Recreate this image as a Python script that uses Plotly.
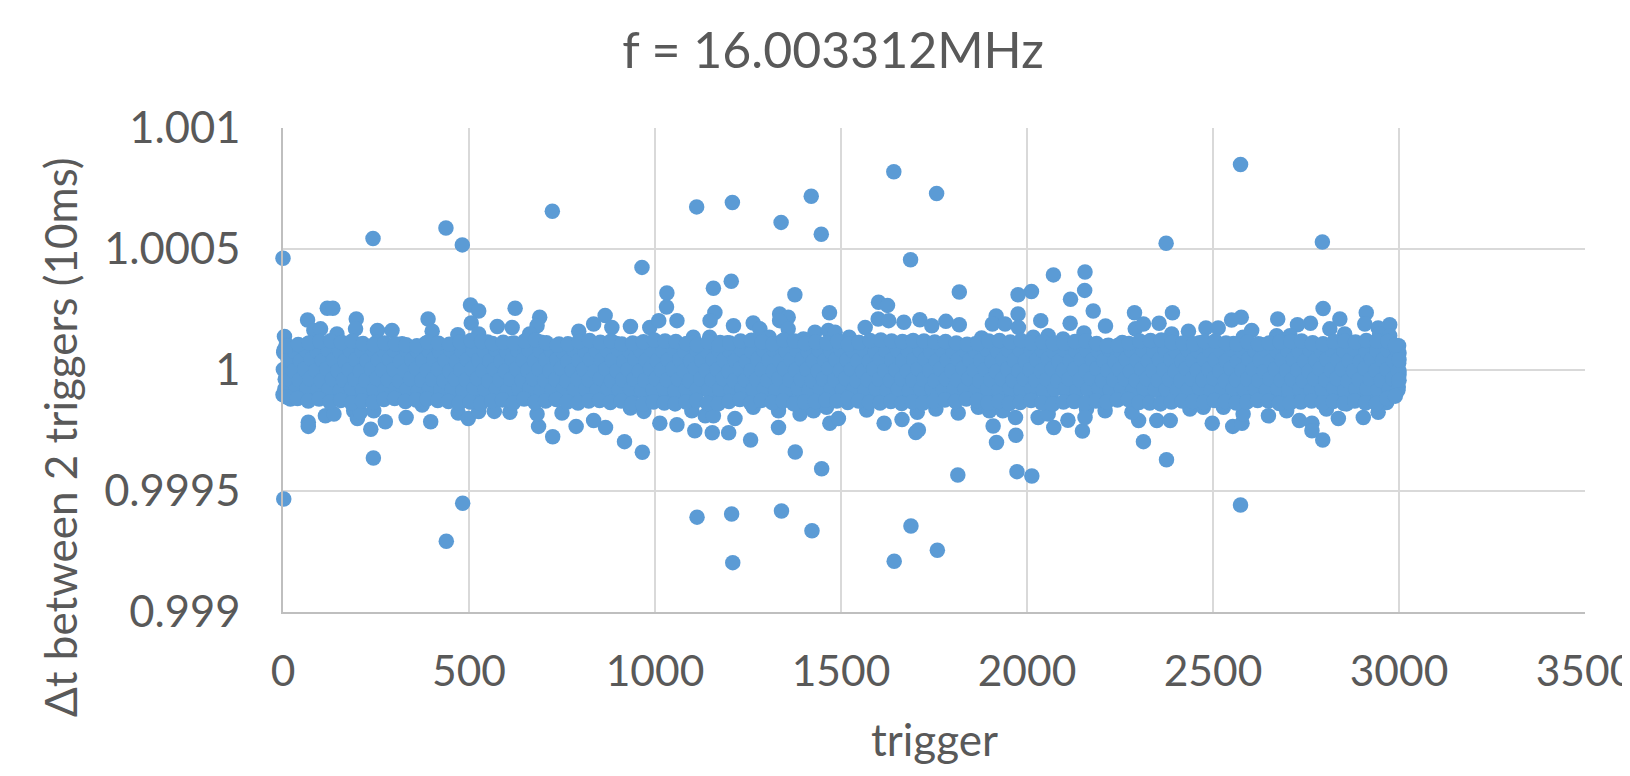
import plotly.graph_objects as go

title_text = "f = 16.003312MHz"
x_title = "trigger"
y_title = "Δt between 2 triggers (10ms)"
x_ticks = [0, 500, 1000, 1500, 2000, 2500, 3000, 3500]
y_ticks = [0.999, 0.9995, 1, 1.0005, 1.001]
y_tick_labels = ["0.999", "0.9995", "1", "1.0005", "1.001"]

# (trigger, deviation from 1 in millionths)
outliers = [
    (0,462),(2,-533),(242,543),(243,-364),(438,587),(439,-708),(482,517),(483,-551),(724,656),(965,424),
    (966,-340),(1032,318),(1031,260),(918,-296),(867,-238),(725,-276),(1112,674),(1208,692),(1339,610),
    (1420,718),(1447,561),(1642,819),(1757,729),(1687,456),(1205,367),(1157,338),(1376,311),(1161,238),
    (1148,204),(1469,237),(1818,322),(2071,393),(2156,405),(2155,329),(2117,292),(2012,324),(1976,311),
    (2178,244),(1976,231),(2037,204),(2116,193),(1601,280),(1625,267),(1917,223),(1113,-608),(1206,-595),
    (1340,-583),(1422,-664),(1209,-796),(1688,-645),(1759,-745),(1643,-790),(1814,-434),(1973,-420),
    (2013,-438),(1448,-408),(1377,-339),(1257,-289),(1332,-238),(1198,-259),(1154,-259),(1107,-251),
    (1215,-200),(1918,-300),(1970,-270),(1909,-231),(1969,-196),(2072,-238),(2149,-252),(2110,-208),
    (1701,-258),(1708,-248),(1616,-220),(1664,-205),(1470,-220),(1493,-200),(2574,849),(2574,-558),
    (2374,524),(2375,-371),(2794,529),(2795,-289),(2313,-296),(2796,254),(2912,237),(2674,211),(2391,237),
    (2289,237),(2211,182),(2576,218),(2550,207),(2841,211),(2762,193),(2727,187),(2975,187),(2944,174),
    (2498,-220),(2553,-233),(2578,-220),(2649,-189),(2732,-209),(2766,-220),(2766,-251),(2837,-200),
    (2904,-196),(2300,-209),(2282,-175),(2349,-209),(2385,-209),(2967,-134),
]

upper_edge = [
    (4,138),(66,207),(119,255),(134,255),(197,211),(254,163),(293,163),(390,211),(401,160),(470,146),
    (504,269),(526,244),(506,194),(526,149),(576,180),(624,255),(616,176),(690,218),(683,183),(663,149),
    (795,160),(835,190),(866,225),(884,176),(934,180),(986,176),(1010,204),(1059,204),(145,149),(195,170),
    (83,163),(101,170),(1211,183),(1264,194),(1282,170),(1335,231),(1358,218),(1335,204),(1358,170),
    (1430,156),(1466,163),(1484,156),(1522,135),(1565,176),(1600,211),(1628,204),(1669,197),(1712,208),
    (1744,183),(1782,201),(1818,187),(1878,132),(1907,190),(1941,190),(1977,176),(2017,135),(2057,142),
    (2097,128),(2153,153),(1103,135),(1147,135),(1175,114),(1307,135),(1399,128),(2291,170),(2313,190),
    (2355,193),(2389,149),(2434,160),(2481,174),(2514,174),(2581,135),(2604,163),(2671,142),(2707,142),
    (2814,170),(2854,149),(2908,190),(2948,149),(2975,142),
]

lower_edge = [
    (0,-102),(20,-120),(68,-216),(68,-233),(114,-189),(137,-182),(190,-168),(200,-200),(208,-175),(236,-245),
    (275,-214),(244,-168),(331,-196),(397,-214),(374,-145),(471,-178),(498,-200),(526,-172),(568,-171),
    (610,-175),(687,-233),(683,-182),(750,-178),(788,-233),(835,-209),(934,-157),(970,-171),(1013,-220),
    (1059,-226),(1264,-154),(1332,-168),(1390,-182),(1426,-168),(1461,-154),(1518,-134),(1569,-165),
    (1705,-175),(1755,-161),(1815,-178),(1869,-154),(1899,-168),(1935,-168),(2030,-196),(2057,-182),
    (2160,-161),(1099,-168),(1135,-189),(1157,-189),(2438,-161),(2474,-154),(2528,-154),(2581,-182),
    (2698,-168),(2805,-161),(2944,-175),(2859,-140),(2210,-168),(2156,-196),
]

band_a = [
    (2,72),(6,-38),(9,104),(13,-3),(18,-108),(22,33),(27,-71),(33,-64),(38,97),(42,28),(47,-102),(52,66),(57,-29),(62,4),
    (68,110),(73,-85),(77,41),(82,-12),(88,-115),(93,78),(98,-47),(104,15),(109,-96),(113,58),(119,-21),(124,101),(129,-69),(134,36),
    (140,-118),(145,84),(150,-42),(155,9),(161,112),(166,-78),(171,47),(177,-16),(182,-105),(187,71),(192,-53),(198,22),(203,106),(208,-88),
    (214,39),(219,-7),(224,-112),(230,81),(235,-33),(240,55),(246,-74),(251,114),(256,-20),(262,-99),(267,63),(272,12),(278,-57),(283,95),
    (288,-110),(294,30),(299,-41),(304,76),(310,-84),(315,2),(320,108),(326,-27),(331,-101),(336,51),(342,-62),(347,89),(352,18),(358,-116),
    (363,69),(368,-36),(374,43),(379,-79),(384,111),(390,-10),(395,-93),(400,60),(406,-50),(411,25),(416,99),(422,-107),(427,-24),(432,74),
    (438,-66),(443,37),(448,-113),(454,92),(459,-5),(464,-82),(470,53),(475,113),(480,-44),(486,20),(491,-98),(496,82),(502,-31),(507,48),
    (512,-72),(518,105),(523,7),(528,-109),(534,65),(539,-55),(544,29),(550,116),(555,-87),(560,-15),(566,79),(571,-60),(576,40),(582,-103),
    (587,98),(592,-26),(598,56),(603,-76),(608,11),(614,109),(619,-114),(624,-40),(630,70),(635,-91),(640,31),(646,-2),(651,103),(656,-67),
    (662,46),(667,-119),(672,85),(678,-19),(683,-52),(688,61),(694,115),(699,-83),(704,23),(710,-34),(715,-106),(720,90),(726,-9),(731,52),
    (736,-70),(742,107),(747,-46),(752,16),(758,-95),(763,77),(768,-25),(774,38),(779,-111),(784,100),(790,-59),(795,5),(800,68),(806,-89),
    (811,112),(816,-37),(822,44),(827,-104),(832,87),(838,-14),(843,-73),(848,59),(854,26),(859,-117),(864,102),(870,-48),(875,73),(880,-6),
    (886,-86),(891,34),(896,110),(902,-30),(907,-100),(912,64),(918,-56),(923,13),(928,94),(934,-112),(939,42),(944,-18),(950,-77),(955,106),
    (960,57),(965,-43),(971,-97),(976,24),(981,83),(987,-63),(992,-11),(997,114),(1003,-108),(1008,49),(1013,-32),(1019,75),(1024,-81),(1029,8),
    (1035,96),(1040,-54),(1045,35),(1051,-115),(1056,109),(1061,-23),(1067,62),(1072,-92),(1077,17),(1083,-68),(1088,86),(1093,-39),(1099,111),(1104,-4),
    (1109,-103),(1115,54),(1120,-49),(1125,27),(1131,98),(1136,-80),(1141,-16),(1147,72),(1152,-110),(1157,40),(1163,-61),(1168,104),(1173,3),(1179,-35),
    (1184,-94),(1189,67),(1195,113),(1200,-75),(1205,21),(1211,-45),(1216,88),(1221,-118),(1227,50),(1232,-8),(1237,-65),(1243,107),(1248,32),(1253,-28),
    (1259,-99),(1264,80),(1269,-52),(1275,14),(1280,60),(1285,-85),(1291,112),(1296,-20),(1301,43),(1307,-107),(1312,93),(1317,-41),(1323,6),(1328,71),
    (1333,-72),(1339,116),(1344,-13),(1349,-114),(1355,55),(1360,-57),(1365,28),(1371,100),(1376,-88),(1381,-33),(1387,66),(1392,10),(1397,-101),(1403,84),
    (1408,-47),(1413,37),(1419,109),(1424,-78),(1429,-1),(1435,-60),(1440,58),(1445,-116),(1451,91),(1456,-24),(1461,19),(1467,74),(1472,-90),(1477,-37),
    (1483,45),(1488,105),(1493,-68),(1499,-10),(1504,-106),(1509,63),(1515,30),(1520,-51),(1525,97),(1531,-83),(1536,-17),(1541,52),(1547,114),(1552,-112),
    (1557,-29),(1563,78),(1568,7),(1573,-64),(1579,41),(1584,103),(1589,-96),(1595,-42),(1600,69),(1605,16),(1611,-119),(1616,89),(1621,-22),(1627,51),
    (1632,-74),(1637,110),(1643,1),(1648,-55),(1653,33),(1659,-104),(1664,82),(1669,-36),(1675,60),(1680,-86),(1685,115),(1691,-12),(1696,25),(1701,-69),
    (1707,95),(1712,-113),(1717,47),(1723,-30),(1728,-92),(1733,76),(1739,9),(1744,-58),(1749,106),(1755,38),(1760,-101),(1765,-19),(1771,65),(1776,-80),
    (1781,112),(1787,-44),(1792,22),(1797,-109),(1803,86),(1808,-3),(1813,-62),(1819,54),(1824,99),(1829,-34),(1835,-117),(1840,31),(1845,73),(1851,-76),
    (1856,-15),(1861,108),(1867,44),(1872,-97),(1877,-48),(1883,15),(1888,90),(1893,-84),(1899,59),(1904,-26),(1909,113),(1915,-108),(1920,2),(1925,68),
    (1931,-54),(1936,36),(1941,-91),(1947,101),(1952,-8),(1957,-70),(1963,79),(1968,20),(1973,-115),(1979,49),(1984,-40),(1989,107),(1995,-77),(2000,-21),
    (2005,61),(2011,-102),(2016,92),(2021,11),(2027,-59),(2032,34),(2037,111),(2043,-32),(2048,-89),(2053,70),(2059,-6),(2064,-111),(2069,42),(2075,85),
    (2080,-46),(2085,18),(2091,-73),(2096,104),(2101,-16),(2107,56),(2112,-95),(2117,-38),(2123,77),(2128,4),(2133,-118),(2139,96),(2144,29),(2149,-63),
    (2155,47),(2160,-27),(2165,109),(2171,-82),(2176,64),(2181,-50),(2187,13),(2192,-105),(2197,88),(2203,-11),(2208,39),(2213,-71),(2219,102),(2224,-35),
    (2229,57),(2235,-99),(2240,-2),(2245,75),(2251,-56),(2256,114),(2261,23),(2267,-113),(2272,46),(2277,-23),(2283,83),(2288,-87),(2293,10),(2299,-43),
    (2304,106),(2309,62),(2315,-66),(2320,-107),(2325,32),(2331,94),(2336,-13),(2341,-79),(2347,50),(2352,112),(2357,-31),(2363,-100),(2368,72),(2373,17),
    (2379,-52),(2384,40),(2389,98),(2395,-116),(2400,-5),(2405,66),(2411,-75),(2416,27),(2421,108),(2427,-39),(2432,-93),(2437,55),(2443,-18),(2448,86),
    (2453,-60),(2459,6),(2464,113),(2469,-110),(2475,43),(2480,-28),(2485,74),(2491,-84),(2496,21),(2501,101),(2507,-47),(2512,-9),(2517,63),(2523,-103),
    (2528,35),(2533,90),(2539,-68),(2544,-20),(2549,52),(2555,110),(2560,-88),(2565,12),(2571,-37),(2576,80),(2581,-114),(2587,44),(2592,-57),(2597,99),
    (2603,-1),(2608,-78),(2613,60),(2619,28),(2624,-96),(2629,105),(2635,-33),(2640,71),(2645,-64),(2651,8),(2656,-108),(2661,48),(2667,-25),(2672,91),
    (2677,-83),(2683,15),(2688,111),(2693,-45),(2699,37),(2704,-99),(2709,67),(2715,-12),(2720,-70),(2725,103),(2731,54),(2736,-117),(2741,-30),(2747,24),
    (2752,82),(2757,-61),(2763,-4),(2768,113),(2773,-90),(2779,41),(2784,-41),(2789,76),(2795,-106),(2800,18),(2805,96),(2811,-54),(2816,58),(2821,-15),
    (2827,-81),(2832,107),(2837,31),(2843,-112),(2848,69),(2853,-36),(2859,3),(2864,88),(2869,-72),(2875,46),(2880,-22),(2885,112),(2891,-95),(2896,26),
    (2901,-49),(2907,79),(2912,-8),(2917,-104),(2923,60),(2928,101),(2933,-65),(2939,36),(2944,-27),(2949,92),(2953,-85),(2957,12),(2961,112),(2965,-110),
    (2968,50),(2971,-44),(2974,84),(2977,-74),(2980,22),(2983,106),(2985,-98),(2987,66),(2989,-18),(2991,-60),(2992,40),(2994,90),(2995,-84),(2996,6),
    (2997,56),(2998,-40),(2999,28),(3000,-20),(3000,70),(2998,-70),(2999,100),(3000,-4),
]

band_b = [
    (3,83),(1,2),(5,-78),(14,42),(17,-39),(32,76),(29,-4),(35,-84),(47,37),(44,-42),(62,81),(58,3),(64,-76),(76,44),(73,-36),
    (91,78),(88,-2),(94,-83),(106,39),(103,-44),(122,84),(118,5),(123,-79),(136,41),(133,-37),(152,77),(148,-3),(154,-85),(166,36),(163,-41),
    (181,82),(178,1),(184,-77),(196,43),(193,-38),(212,79),(208,-5),(214,-82),(226,38),(223,-43),(241,85),(238,4),(244,-80),(256,40),(253,-35),
    (272,76),(268,-1),(274,-84),(286,45),(283,-40),(301,80),(298,2),(304,-75),(316,35),(313,-45),(332,83),(328,-4),(334,-81),(346,42),(343,-36),
    (361,78),(358,6),(364,-86),(376,37),(373,-42),(392,81),(388,-2),(394,-77),(406,44),(403,-39),(421,75),(418,3),(424,-83),(436,39),(433,-44),
    (452,84),(448,-6),(454,-79),(466,36),(463,-37),(481,77),(478,1),(484,-85),(496,43),(493,-41),(512,82),(508,4),(514,-76),(526,41),(523,-35),
    (541,79),(538,-3),(544,-82),(556,38),(553,-45),(572,85),(568,2),(574,-78),(586,35),(583,-40),(601,76),(598,-5),(604,-84),(616,45),(613,-38),
    (632,80),(628,5),(634,-80),(646,40),(643,-43),(661,83),(658,-1),(664,-75),(676,37),(673,-36),(692,78),(688,3),(694,-86),(706,42),(703,-42),
    (721,81),(718,-4),(724,-81),(736,44),(733,-39),(752,75),(748,6),(754,-77),(766,36),(763,-44),(781,84),(778,-2),(784,-83),(796,39),(793,-37),
    (812,77),(808,2),(814,-79),(826,43),(823,-41),(841,82),(838,-6),(844,-85),(856,41),(853,-35),(872,79),(868,4),(874,-76),(886,38),(883,-45),
    (901,85),(898,-3),(904,-82),(916,35),(913,-40),(932,76),(928,1),(934,-78),(946,45),(943,-38),(961,80),(958,-5),(964,-84),(976,40),(973,-43),
    (992,83),(988,5),(994,-80),(1006,37),(1003,-36),(1021,78),(1018,-1),(1024,-75),(1036,42),(1033,-42),(1052,81),(1048,3),(1054,-86),(1066,44),(1063,-39),
    (1081,75),(1078,-4),(1084,-81),(1096,36),(1093,-44),(1112,84),(1108,6),(1114,-77),(1126,39),(1123,-37),(1141,77),(1138,-2),(1144,-83),(1156,43),(1153,-41),
    (1172,82),(1168,2),(1174,-79),(1186,41),(1183,-35),(1201,79),(1198,-6),(1204,-85),(1216,38),(1213,-45),(1232,85),(1228,4),(1234,-76),(1246,35),(1243,-40),
    (1261,76),(1258,-3),(1264,-82),(1276,45),(1273,-38),(1292,80),(1288,1),(1294,-78),(1306,40),(1303,-43),(1321,83),(1318,-5),(1324,-84),(1336,37),(1333,-36),
    (1352,78),(1348,5),(1354,-80),(1366,42),(1363,-42),(1381,81),(1378,-1),(1384,-75),(1396,44),(1393,-39),(1412,75),(1408,3),(1414,-86),(1426,36),(1423,-44),
    (1441,84),(1438,-4),(1444,-81),(1456,39),(1453,-37),(1472,77),(1468,6),(1474,-77),(1486,43),(1483,-41),(1501,82),(1498,-2),(1504,-83),(1516,41),(1513,-35),
    (1532,79),(1528,2),(1534,-79),(1546,38),(1543,-45),(1561,85),(1558,-6),(1564,-85),(1576,35),(1573,-40),(1592,76),(1588,4),(1594,-76),(1606,45),(1603,-38),
    (1621,80),(1618,-3),(1624,-82),(1636,40),(1633,-43),(1652,83),(1648,1),(1654,-78),(1666,37),(1663,-36),(1681,78),(1678,-5),(1684,-84),(1696,42),(1693,-42),
    (1712,81),(1708,5),(1714,-80),(1726,44),(1723,-39),(1741,75),(1738,-1),(1744,-75),(1756,36),(1753,-44),(1772,84),(1768,3),(1774,-86),(1786,39),(1783,-37),
    (1801,77),(1798,-4),(1804,-81),(1816,43),(1813,-41),(1832,82),(1828,6),(1834,-77),(1846,41),(1843,-35),(1861,79),(1858,-2),(1864,-83),(1876,38),(1873,-45),
    (1892,85),(1888,2),(1894,-79),(1906,35),(1903,-40),(1921,76),(1918,-6),(1924,-85),(1936,45),(1933,-38),(1952,80),(1948,4),(1954,-76),(1966,40),(1963,-43),
    (1981,83),(1978,-3),(1984,-82),(1996,37),(1993,-36),(2012,78),(2008,1),(2014,-78),(2026,42),(2023,-42),(2041,81),(2038,-5),(2044,-84),(2056,44),(2053,-39),
    (2072,75),(2068,5),(2074,-80),(2086,36),(2083,-44),(2101,84),(2098,-1),(2104,-75),(2116,39),(2113,-37),(2132,77),(2128,3),(2134,-86),(2146,43),(2143,-41),
    (2161,82),(2158,-4),(2164,-81),(2176,41),(2173,-35),(2192,79),(2188,6),(2194,-77),(2206,38),(2203,-45),(2221,85),(2218,-2),(2224,-83),(2236,35),(2233,-40),
    (2252,76),(2248,2),(2254,-79),(2266,45),(2263,-38),(2281,80),(2278,-6),(2284,-85),(2296,40),(2293,-43),(2312,83),(2308,4),(2314,-76),(2326,37),(2323,-36),
    (2341,78),(2338,-3),(2344,-82),(2356,42),(2353,-42),(2372,81),(2368,1),(2374,-78),(2386,44),(2383,-39),(2401,75),(2398,-5),(2404,-84),(2416,36),(2413,-44),
    (2432,84),(2428,5),(2434,-80),(2446,39),(2443,-37),(2461,77),(2458,-1),(2464,-75),(2476,43),(2473,-41),(2492,82),(2488,3),(2494,-86),(2506,41),(2503,-35),
    (2521,79),(2518,-4),(2524,-81),(2536,38),(2533,-45),(2552,85),(2548,6),(2554,-77),(2566,35),(2563,-40),(2581,76),(2578,-2),(2584,-83),(2596,45),(2593,-38),
    (2612,80),(2608,2),(2614,-79),(2626,40),(2623,-43),(2641,83),(2638,-6),(2644,-85),(2656,37),(2653,-36),(2672,78),(2668,4),(2674,-76),(2686,42),(2683,-42),
    (2701,81),(2698,-3),(2704,-82),(2716,44),(2713,-39),(2732,75),(2728,1),(2734,-78),(2746,36),(2743,-44),(2761,84),(2758,-5),(2764,-84),(2776,39),(2773,-37),
    (2792,77),(2788,5),(2794,-80),(2806,43),(2803,-41),(2821,82),(2818,-1),(2824,-75),(2836,41),(2833,-35),(2852,79),(2848,3),(2854,-86),(2866,38),(2863,-45),
    (2881,85),(2878,-4),(2884,-81),(2896,35),(2893,-40),(2912,76),(2908,6),(2914,-77),(2926,45),(2923,-38),(2941,80),(2938,-2),(2944,-83),(2956,40),(2953,-43),
    (2971,83),(2968,2),(2974,-79),(2986,37),(2983,-36),(2996,78),(2998,-5),(2997,-84),(3000,42),(3000,-42),
]

band_top = [
    (12,98),(41,105),(70,112),(99,118),(128,121),(157,114),(186,120),(215,109),(244,104),(273,112),(302,108),(331,104),(360,100),(389,115),
    (418,111),(447,106),(476,117),(505,122),(534,118),(563,109),(592,115),(621,112),(650,120),(679,124),(708,113),(737,102),(766,108),(795,118),
    (824,122),(853,115),(882,120),(911,107),(940,112),(969,117),(998,124),(1027,120),(1056,118),(1085,110),(1114,104),(1143,116),(1172,102),
    (1201,112),(1230,120),(1259,123),(1288,116),(1317,108),(1346,124),(1375,120),(1404,110),(1433,116),(1462,112),(1491,118),(1520,106),(1549,114),
    (1578,122),(1607,124),(1636,120),(1665,118),(1694,122),(1723,120),(1752,116),(1781,118),(1810,112),(1839,106),(1868,110),(1897,120),(1926,122),
    (1955,116),(1984,122),(2013,112),(2042,116),(2071,110),(2100,112),(2129,118),(2158,120),(2187,110),(2216,100),(2245,102),(2274,110),(2303,120),
    (2332,122),(2361,124),(2390,114),(2419,112),(2448,108),(2477,118),(2506,120),(2535,112),(2564,106),(2593,116),(2622,108),(2651,112),(2680,116),
    (2709,118),(2738,120),(2767,110),(2796,108),(2825,118),(2854,120),(2883,116),(2912,122),(2941,120),(2970,118),(2990,102),
]

band_bottom = [
    (10,-112),(39,-118),(68,-128),(97,-120),(126,-132),(155,-126),(184,-136),(213,-128),(242,-134),(271,-122),(300,-118),(329,-130),(358,-124),(387,-120),
    (416,-126),(445,-130),(474,-136),(503,-132),(532,-138),(561,-128),(590,-124),(619,-136),(648,-120),(677,-134),(706,-128),(735,-122),(764,-132),(793,-136),
    (822,-128),(851,-126),(880,-134),(909,-128),(938,-138),(967,-142),(996,-132),(1025,-136),(1054,-140),(1083,-132),(1112,-126),(1141,-138),(1170,-140),
    (1199,-130),(1228,-122),(1257,-136),(1286,-126),(1315,-134),(1344,-128),(1373,-140),(1402,-132),(1431,-130),(1460,-124),(1489,-128),(1518,-118),(1547,-128),
    (1576,-134),(1605,-136),(1634,-130),(1663,-138),(1692,-132),(1721,-136),(1750,-128),(1779,-124),(1808,-130),(1837,-120),(1866,-126),(1895,-136),(1924,-130),
    (1953,-138),(1982,-134),(2011,-126),(2040,-136),(2069,-142),(2098,-132),(2127,-130),(2156,-136),(2185,-128),(2214,-132),(2243,-124),(2272,-122),(2301,-134),
    (2330,-136),(2359,-140),(2388,-132),(2417,-128),(2446,-130),(2475,-134),(2504,-126),(2533,-130),(2562,-136),(2591,-132),(2620,-126),(2649,-128),(2678,-138),
    (2707,-136),(2736,-132),(2765,-128),(2794,-136),(2823,-130),(2852,-138),(2881,-128),(2910,-136),(2939,-138),(2968,-118),(2990,-108),
]

points = outliers + upper_edge + lower_edge + band_a + band_b + band_top + band_bottom
triggers = [p[0] for p in points]
intervals = [1 + p[1] * 1e-6 for p in points]

BLUE = "#5B9BD5"
TEXT = "#595959"
GRID = "#D9D9D9"
AXIS = "#BFBFBF"
FONT = "Lato"

fig = go.Figure(go.Scatter(
    x=triggers, y=intervals, mode="markers",
    marker=dict(color=BLUE, size=15.5, line=dict(width=0)),
    cliponaxis=False, showlegend=False,
))

fig.update_layout(
    width=1640, height=768, autosize=False,
    margin=dict(l=274.5, r=63, t=120, b=164.3),
    paper_bgcolor="white", plot_bgcolor="white",
    font=dict(family=FONT, color=TEXT, size=44),
    title=dict(text=title_text, x=825 / 1640, xanchor="center", y=1 - 42 / 768, yanchor="middle",
               font=dict(family=FONT, size=50, color=TEXT)),
    xaxis=dict(range=[0, 3500], tickmode="array", tickvals=x_ticks, showgrid=True, gridcolor=GRID, gridwidth=1.5,
               showline=True, linecolor=AXIS, linewidth=1.5, zeroline=False, ticklabeloverflow="allow",
               ticks="", ticklabelstandoff=21, tickfont=dict(family=FONT, size=42.5, color=TEXT)),
    yaxis=dict(range=[0.999, 1.001], tickmode="array", tickvals=y_ticks, ticktext=y_tick_labels, showgrid=True,
               gridcolor=GRID, gridwidth=1.5, showline=True, linecolor=AXIS, linewidth=1.5, zeroline=False,
               ticks="", ticklabelstandoff=32, tickfont=dict(family=FONT, size=43.5, color=TEXT)),
    annotations=[
        dict(text=x_title, xref="paper", yref="paper", x=0.5, y=-127 / 484, xanchor="center", yanchor="middle",
             showarrow=False, font=dict(family=FONT, size=44, color=TEXT)),
        dict(text=y_title, xref="paper", yref="paper", x=-223 / 1302.5, y=(612 - 437) / 484, xanchor="center",
             yanchor="middle", textangle=-90, showarrow=False, font=dict(family=FONT, size=44, color=TEXT)),
    ],
)

fig.write_html("out.html")
